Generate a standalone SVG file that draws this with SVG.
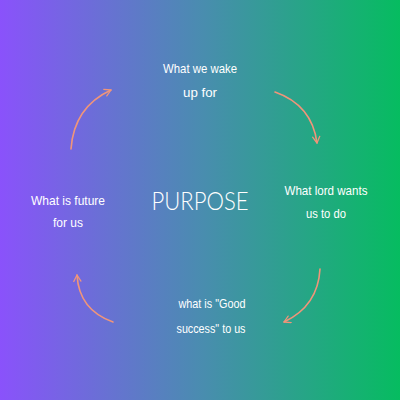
<svg xmlns="http://www.w3.org/2000/svg" width="400" height="400" viewBox="0 0 400 400">
<defs>
<linearGradient id="bg" x1="0" y1="0" x2="1" y2="0">
<stop offset="0" stop-color="#8a52fb"/>
<stop offset="0.5" stop-color="#4a8cb0"/>
<stop offset="1" stop-color="#06bc60"/>
</linearGradient>
<marker id="ah" viewBox="0 0 10 10" refX="8" refY="5" markerWidth="9" markerHeight="9" orient="auto" markerUnits="userSpaceOnUse">
<path d="M1,1 L8,5 L1,9" fill="none" stroke="#f0957a" stroke-width="1.4" stroke-linecap="round" stroke-linejoin="round"/>
</marker>
<style>
.t{font-family:"Liberation Sans","DejaVu Sans",sans-serif;font-size:13px;fill:#ffffff;text-anchor:middle;}
.c{fill:none;stroke:#f0957a;stroke-width:1.6;stroke-linecap:round;}
</style>
</defs>
<rect width="400" height="400" fill="url(#bg)"/>
<g id="connectors">
<path class="c" d="M71,149 Q74,107 111,90" marker-end="url(#ah)"/>
<path class="c" d="M275,92 Q312,105 317,143" marker-end="url(#ah)"/>
<path class="c" d="M320,269 Q318,306 284,322" marker-end="url(#ah)"/>
<path class="c" d="M113,322 Q79,310 77,275" marker-end="url(#ah)"/>
</g>
<g id="center">
<text x="200" y="210" style="font-family:Lato,'Liberation Sans',sans-serif;font-weight:300;font-size:25px;fill:#ffffff;text-anchor:middle;" textLength="97" lengthAdjust="spacingAndGlyphs">PURPOSE</text>
</g>
<g id="node-top">
<text class="t" x="200" y="73" textLength="74" lengthAdjust="spacingAndGlyphs">What we wake</text>
<text class="t" x="200" y="97" textLength="34" lengthAdjust="spacingAndGlyphs">up for</text>
</g>
<g id="node-right">
<text class="t" x="326" y="195" textLength="83" lengthAdjust="spacingAndGlyphs">What lord wants</text>
<text class="t" x="326" y="218" textLength="40" lengthAdjust="spacingAndGlyphs">us to do</text>
</g>
<g id="node-bottom">
<text class="t" x="212" y="308" textLength="67" lengthAdjust="spacingAndGlyphs">what is "Good</text>
<text class="t" x="211" y="333" textLength="69" lengthAdjust="spacingAndGlyphs">success" to us</text>
</g>
<g id="node-left">
<text class="t" x="68" y="205" textLength="74" lengthAdjust="spacingAndGlyphs">What is future</text>
<text class="t" x="68" y="227" textLength="30" lengthAdjust="spacingAndGlyphs">for us</text>
</g>
</svg>
